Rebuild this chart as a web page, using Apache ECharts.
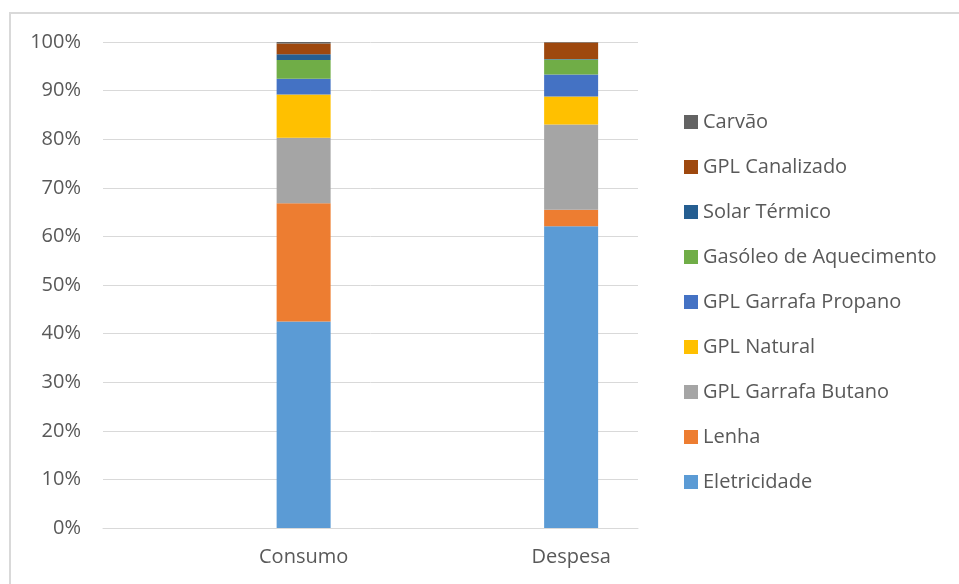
<!DOCTYPE html>
<html>
<head>
<meta charset="utf-8">
<script src="https://cdn.jsdelivr.net/npm/echarts@6/dist/echarts.min.js"></script>
<style>
  html, body { margin: 0; padding: 0; background: #fff; }
  #main { width: 959px; height: 584px; }
</style>
</head>
<body>
<div id="main"></div>
<script>
// categorias e valores (% do total)
var categories = ['Consumo', 'Despesa'];
var seriesNames = ['Eletricidade', 'Lenha', 'GPL Garrafa Butano', 'GPL Natural', 'GPL Garrafa Propano',
  'Gasóleo de Aquecimento', 'Solar Térmico', 'GPL Canalizado', 'Carvão'];
var eletricidade = [42.5, 62.1];
var lenha = [24.3, 3.4];
var butano = [13.5, 17.5];
var natural = [8.9, 5.8];
var propano = [3.25, 4.5];
var gasoleo = [3.85, 3.1];
var solar = [1.2, 0.1];
var canalizado = [2.2, 3.4];
var carvao = [0.3, 0.2];
var yTicks = [0, 10, 20, 30, 40, 50, 60, 70, 80, 90, 100];

var colors = ['#5B9BD5', '#ED7D31', '#A5A5A5', '#FFC000', '#4472C4', '#70AD47', '#255E91', '#9E480E', '#636363'];
var values = [eletricidade, lenha, butano, natural, propano, gasoleo, solar, canalizado, carvao];

// o Excel desenha cada barra no fim do seu espaço: intercala-se uma categoria vazia
var axisCats = [];
categories.forEach(function (c) { axisCats.push(''); axisCats.push(c); });
function pad(arr) {
  var out = [];
  arr.forEach(function (v) { out.push(null); out.push(v); });
  return out;
}

var font = '"Open Sans", "Noto Sans", sans-serif';
var myChart = echarts.init(document.getElementById('main'));

var option = {
  animation: false,
  textStyle: { fontFamily: font },
  graphic: [{
    type: 'rect',
    shape: { x: 10, y: 13, width: 1000, height: 1000 },
    style: { fill: 'none', stroke: '#d9d9d9', lineWidth: 2 },
    silent: true
  }],
  legend: {
    orient: 'vertical',
    left: 679,
    top: 107,
    itemWidth: 14,
    itemHeight: 14,
    itemGap: 25,
    itemTextGap: 6,
    icon: 'rect',
    data: seriesNames.slice().reverse(),
    textStyle: { color: '#595959', fontSize: 20, lineHeight: 20, fontFamily: font }
  },
  grid: { left: 103, right: 321, top: 42, bottom: 56 },
  xAxis: {
    type: 'category',
    data: axisCats,
    axisTick: { show: false },
    axisLine: { lineStyle: { color: '#d9d9d9', width: 1 } },
    axisLabel: { color: '#595959', fontSize: 20, margin: 19, interval: 0, fontFamily: font }
  },
  yAxis: {
    type: 'value',
    min: 0,
    max: 100,
    interval: 10,
    axisLine: { show: false },
    axisTick: { show: false },
    splitLine: { lineStyle: { color: '#d9d9d9', width: 1 } },
    axisLabel: {
      color: '#595959', fontSize: 20, margin: 22, fontFamily: font,
      formatter: function (v) { return yTicks.indexOf(v) >= 0 ? v + '%' : ''; }
    }
  },
  series: seriesNames.map(function (name, i) {
    return {
      name: name,
      type: 'bar',
      stack: 'total',
      barWidth: 54,
      itemStyle: { color: colors[i] },
      data: pad(values[i])
    };
  })
};
myChart.setOption(option);
</script>
</body>
</html>
